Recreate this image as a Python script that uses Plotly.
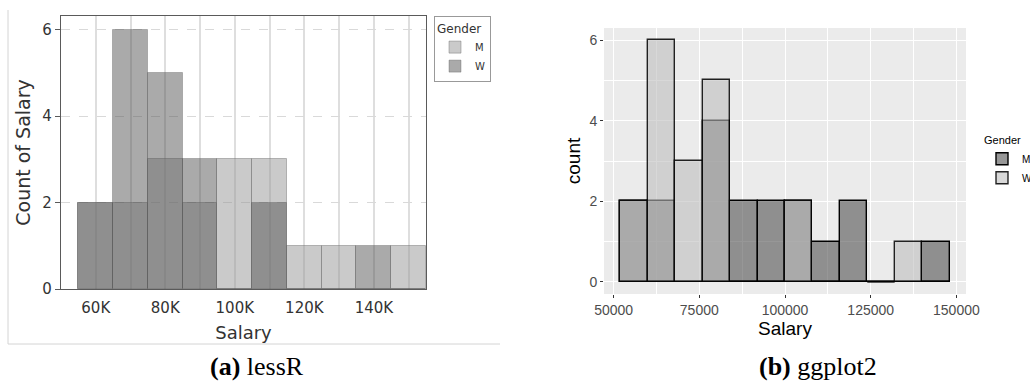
import plotly.graph_objects as go

# ---------------- data ----------------
# lessR panel: bins of width 10K (centres)
lessr_bins = [60000, 70000, 80000, 90000, 100000, 110000, 120000, 130000, 140000, 150000]
lessr_M = [2, 2, 3, 2, 3, 3, 1, 1, 0, 1]
lessr_W = [2, 6, 5, 3, 0, 2, 0, 0, 1, 0]
lessr_width = 10000
lessr_tickvals = [60000, 80000, 100000, 120000, 140000]
lessr_ticktext = ["60K", "80K", "100K", "120K", "140K"]

# ggplot2 panel: bins of width 8000 (centres)
gg_bins = [56000, 64000, 72000, 80000, 88000, 96000, 104000, 112000, 120000, 128000, 136000, 144000]
gg_M = [2, 2, 0, 4, 2, 2, 2, 1, 2, 0, 0, 1]
gg_W = [2, 6, 3, 5, 0, 0, 2, 0, 0, 0, 1, 0]
gg_width = 8000
gg_tickvals = [50000, 75000, 100000, 125000, 150000]
gg_ticktext = ["50000", "75000", "100000", "125000", "150000"]

W, H = 1030, 381
def px(x):
    return x / W
def py(y):
    return 1 - y / H

fig = go.Figure()

# ---------------- lessR panel ----------------
fig.add_trace(go.Bar(
    x=lessr_bins, y=lessr_M, width=lessr_width, name="M",
    marker=dict(color="rgba(150,150,150,0.5)", line=dict(color="rgba(110,110,110,0.45)", width=1)),
    xaxis="x", yaxis="y", legend="legend"))
fig.add_trace(go.Bar(
    x=lessr_bins, y=lessr_W, width=lessr_width, name="W",
    marker=dict(color="rgba(82,82,82,0.49)", line=dict(color="rgba(90,90,90,0.35)", width=1)),
    xaxis="x", yaxis="y", legend="legend"))

# ---------------- ggplot2 panel ----------------
fig.add_trace(go.Bar(
    x=gg_bins, y=gg_M, width=gg_width, name="M",
    marker=dict(color="rgba(82,82,82,0.6)", line=dict(color="black", width=1.4)),
    xaxis="x2", yaxis="y2", legend="legend2"))
fig.add_trace(go.Bar(
    x=gg_bins, y=gg_W, width=gg_width, name="W",
    marker=dict(color="rgba(189,189,189,0.59)", line=dict(color="rgba(0,0,0,0.85)", width=1.4)),
    xaxis="x2", yaxis="y2", legend="legend2"))

# empty bins drawn as a flat outline at zero (as ggplot does)
ex, ey = [], []
for c, m, w in zip(gg_bins, gg_M, gg_W):
    if m == 0 and w == 0:
        ex += [c - gg_width / 2, c + gg_width / 2, None]
        ey += [0, 0, None]
fig.add_trace(go.Scatter(x=ex, y=ey, mode="lines", line=dict(color="black", width=1.4),
                         showlegend=False, hoverinfo="skip", xaxis="x2", yaxis="y2"))

sans = "DejaVu Sans"
gsans = "Liberation Sans"

fig.update_layout(
    width=W, height=H,
    margin=dict(l=0, r=0, t=0, b=0, autoexpand=False),
    paper_bgcolor="white", plot_bgcolor="rgba(0,0,0,0)",
    barmode="overlay", bargap=0,
    showlegend=True,
    xaxis=dict(
        domain=[px(61), px(426)], anchor="y", range=[50000, 155000], automargin=False,
        tickvals=lessr_tickvals, ticktext=lessr_ticktext, ticks="outside", ticklen=5,
        tickcolor="rgba(0,0,0,0)",
        tickfont=dict(family=sans, size=15, color="#333"),
        showgrid=True, gridcolor="#dedede", gridwidth=1.5,
        minor=dict(dtick=10000, tick0=50000, showgrid=True, gridcolor="#dedede", gridwidth=1.5),
        showline=True, linecolor="#5a5a5a", linewidth=1.2, mirror=True, zeroline=False,
        title=dict(text="Salary", font=dict(family=sans, size=18, color="#333"), standoff=10),
    ),
    yaxis=dict(
        domain=[py(289), py(16)], anchor="x", range=[0, 6.32], automargin=False,
        tickvals=[0, 2, 4, 6], ticks="outside", ticklen=5, tickcolor="#5a5a5a",
        tickfont=dict(family=sans, size=15, color="#333"),
        showgrid=True, gridcolor="#d9d9d9", gridwidth=1, griddash="dash",
        showline=True, linecolor="#5a5a5a", linewidth=1.2, mirror=True, zeroline=False,
        title=dict(text="Count of Salary", font=dict(family=sans, size=19, color="#333"), standoff=6),
    ),
    xaxis2=dict(
        domain=[px(604), px(966)], anchor="y2", range=[47200, 152800], automargin=False,
        tickvals=gg_tickvals, ticktext=gg_ticktext, ticks="outside", ticklen=3,
        tickcolor="#333", tickwidth=1,
        tickfont=dict(family=gsans, size=14, color="#4d4d4d"),
        showgrid=True, gridcolor="white", gridwidth=1.3,
        minor=dict(dtick=12500, tick0=50000, showgrid=True, gridcolor="white", gridwidth=0.6),
        showline=False, zeroline=False,
        title=dict(text="Salary", font=dict(family=gsans, size=19, color="black"), standoff=4),
    ),
    yaxis2=dict(
        domain=[py(294), py(28)], anchor="x2", range=[-0.3, 6.3], automargin=False,
        tickvals=[0, 2, 4, 6], ticks="outside", ticklen=3, tickcolor="#333",
        tickfont=dict(family=gsans, size=14, color="#4d4d4d"),
        showgrid=True, gridcolor="white", gridwidth=1.3,
        minor=dict(dtick=1, showgrid=True, gridcolor="white", gridwidth=0.6),
        showline=False, zeroline=False,
        title=dict(text="count", font=dict(family=gsans, size=19, color="black"), standoff=3),
    ),
    legend=dict(
        x=px(434), y=py(16), xanchor="left", yanchor="top",
        bordercolor="#999", borderwidth=1, bgcolor="white",
        title=dict(text="Gender", font=dict(family=sans, size=12, color="#333")),
        font=dict(family=sans, size=10, color="#333"), itemwidth=30, tracegroupgap=0,
    ),
    legend2=dict(
        x=px(982), y=py(130), xanchor="left", yanchor="top",
        bgcolor="rgba(0,0,0,0)", borderwidth=0,
        title=dict(text="Gender", font=dict(family=gsans, size=11, color="black")),
        font=dict(family=gsans, size=10, color="black"), itemwidth=30, tracegroupgap=0,
    ),
    shapes=[
        dict(type="rect", xref="x2 domain", yref="y2 domain", x0=0, x1=1, y0=0, y1=1,
             fillcolor="#ebebeb", line=dict(width=0), layer="below"),
        dict(type="line", xref="paper", yref="paper", x0=px(8), x1=px(8), y0=py(10), y1=py(344),
             line=dict(color="#d4d4d4", width=1)),
        dict(type="line", xref="paper", yref="paper", x0=px(8), x1=px(500), y0=py(344), y1=py(344),
             line=dict(color="#d4d4d4", width=1)),
    ],
    annotations=[
        dict(text="<b>(a)</b> lessR", x=px(257), y=py(366), xref="paper", yref="paper",
             xanchor="center", yanchor="middle",
             showarrow=False, font=dict(family="Liberation Serif", size=26, color="black")),
        dict(text="<b>(b)</b> ggplot2", x=px(818), y=py(366), xref="paper", yref="paper",
             xanchor="center", yanchor="middle",
             showarrow=False, font=dict(family="Liberation Serif", size=26, color="black")),
    ],
)

fig.write_html("out.html")
